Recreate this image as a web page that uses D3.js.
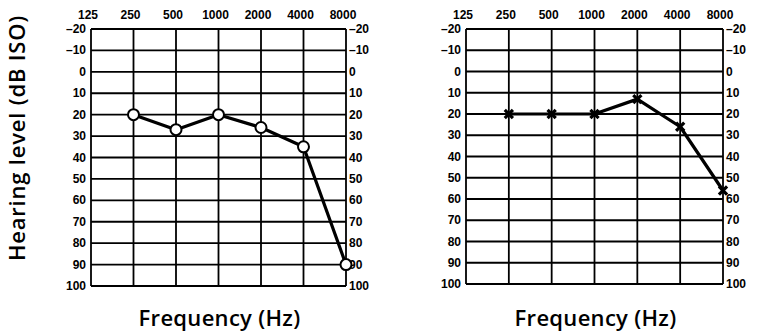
<!DOCTYPE html>
<html>
  <head>
    <style type="text/css">
        body { margin: 0; background: #fff; }
        .tick-label { font-family: "Liberation Sans", sans-serif; font-weight: bold; font-size: 12px; fill: #000; }
        .title { font-family: "Open Sans", sans-serif; font-weight: 600; font-size: 22px; fill: #000; letter-spacing: 0.3px; }
    </style>
  </head>
  <body>
    <svg width="759" height="334"></svg>
    <script src="https://d3js.org/d3.v7.min.js"></script>
    <script>

    // Data
    var frequencies = [125, 250, 500, 1000, 2000, 4000, 8000];
    var levelTicks = [-20, -10, 0, 10, 20, 30, 40, 50, 60, 70, 80, 90, 100];
    var leftFreqs = [250, 500, 1000, 2000, 4000, 8000];
    var leftLevels = [20, 27, 20, 26, 35, 90];
    var rightFreqs = [250, 500, 1000, 2000, 4000, 8000];
    var rightLevels = [20, 20, 20, 13, 26, 56];

    var svg = d3.select("svg");

    function audiogram(x0, x1, y0, y1, freqs, levels, marker) {
        var x = d3.scaleLog().base(2).domain([125, 8000]).range([x0, x1]);
        var y = d3.scaleLinear().domain([-20, 100]).range([y0, y1]);
        var g = svg.append("g");

        // grid
        g.selectAll("line.h").data(levelTicks).enter().append("line")
            .attr("x1", x0).attr("x2", x1)
            .attr("y1", function(d) { return y(d); })
            .attr("y2", function(d) { return y(d); })
            .attr("stroke", "#000").attr("stroke-width", 1.8);
        g.selectAll("line.v").data(frequencies).enter().append("line")
            .attr("y1", y0).attr("y2", y1)
            .attr("x1", function(d) { return x(d); })
            .attr("x2", function(d) { return x(d); })
            .attr("stroke", "#000").attr("stroke-width", 1.8);

        // labels
        g.selectAll("text.top").data(frequencies).enter().append("text")
            .attr("class", "tick-label")
            .attr("x", function(d) { return x(d) - 3; })
            .attr("y", 19)
            .attr("text-anchor", "middle")
            .text(function(d) { return d; });
        g.selectAll("text.left").data(levelTicks).enter().append("text")
            .attr("class", "tick-label")
            .attr("x", x0 - 5)
            .attr("y", function(d) { return y(d) + 4; })
            .attr("text-anchor", "end")
            .text(function(d) { return d < 0 ? "\u2013" + (-d) : d; });
        g.selectAll("text.right").data(levelTicks).enter().append("text")
            .attr("class", "tick-label")
            .attr("x", x1 + 3)
            .attr("y", function(d) { return y(d) + 4; })
            .attr("text-anchor", "start")
            .text(function(d) { return d < 0 ? "\u2013" + (-d) : d; });

        g.append("text")
            .attr("class", "title")
            .attr("x", (x0 + x1) / 2 + 1)
            .attr("y", 326)
            .attr("text-anchor", "middle")
            .text("Frequency (Hz)");

        // data line
        var pts = freqs.map(function(f, i) { return [x(f), y(levels[i])]; });
        g.append("path")
            .attr("d", d3.line()(pts))
            .attr("fill", "none")
            .attr("stroke", "#000")
            .attr("stroke-width", 3.2)
            .attr("stroke-linejoin", "round");

        if (marker == "circle") {
            g.selectAll("circle").data(pts).enter().append("circle")
                .attr("cx", function(d) { return d[0]; })
                .attr("cy", function(d) { return d[1]; })
                .attr("r", 5.5)
                .attr("fill", "#fff")
                .attr("stroke", "#000")
                .attr("stroke-width", 2);
        } else {
            g.selectAll("path.mark").data(pts).enter().append("path")
                .attr("transform", function(d) { return "translate(" + d[0] + "," + d[1] + ")"; })
                .attr("d", d3.symbol().type(d3.symbolX).size(45))
                .attr("fill", "none")
                .attr("stroke", "#000")
                .attr("stroke-width", 3.2);
        }
    }

    audiogram(91, 346, 29, 286, leftFreqs, leftLevels, "circle");
    audiogram(466, 723, 29, 284, rightFreqs, rightLevels, "cross");

    svg.append("text")
        .attr("class", "title")
        .attr("transform", "translate(25,138) rotate(-90)")
        .attr("text-anchor", "middle")
        .style("letter-spacing", "0.8px")
        .text("Hearing level (dB ISO)");

    </script>
  </body>
</html>
